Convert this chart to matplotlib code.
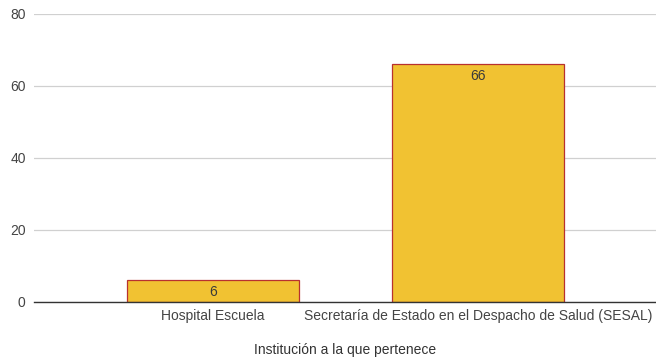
import matplotlib
matplotlib.use("Agg")
import matplotlib.pyplot as plt

categories = ["Hospital Escuela", "Secretaría de Estado en el Despacho de Salud (SESAL)"]
values = [6, 66]
yticks = [0, 20, 40, 60, 80]
xlabel = "Institución a la que pertenece"

plt.rcParams['font.family'] = ['Liberation Sans', 'DejaVu Sans']

fig = plt.figure(figsize=(6.56, 3.62), dpi=100)
ax = fig.add_axes([34/656, 60.5/362, 1 - 34/656, (301.5-13.5)/362])

x = list(range(len(categories)))
bars = ax.bar(x, values, width=0.65, color="#F1C232", edgecolor="#B8312F", linewidth=0.9, zorder=3)
for xi, v in zip(x, values):
    ax.annotate(str(v), (xi, v), xytext=(0, -4), textcoords="offset points",
                ha="center", va="top", fontsize=10, color="#3a3a3a", zorder=4)

ax.set_xlim(-0.675, 1.672)
ax.set_ylim(0, 80)
ax.set_yticks(yticks)
ax.set_xticks(x)
ax.set_xticklabels(categories)
ax.tick_params(axis="both", length=0, labelsize=10, labelcolor="#444444")
ax.tick_params(axis="y", pad=6)
ax.tick_params(axis="x", pad=5.5)
ax.grid(axis="y", color="#d0d0d0", linewidth=0.9, zorder=0)
for s in ["top", "right", "left"]:
    ax.spines[s].set_visible(False)
ax.spines["bottom"].set_color("#333333")
ax.spines["bottom"].set_linewidth(1.0)
ax.spines["bottom"].set_zorder(5)
ax.set_xlabel(xlabel, fontsize=10, color="#333333", labelpad=14)

fig.savefig("out.png", dpi=100)
